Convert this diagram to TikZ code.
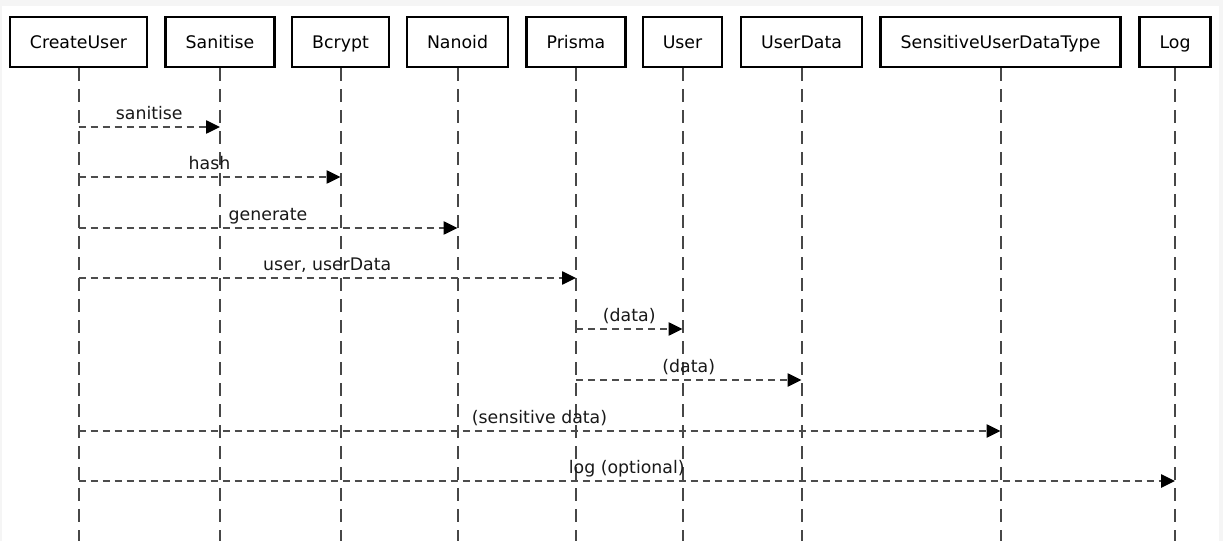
\documentclass[tikz,border=0pt]{standalone}
\usepackage{fontspec}
\setmainfont{DejaVu Sans}
\usetikzlibrary{arrows.meta}

\tikzset{
  actor/.style={draw, line width=1.8pt, minimum height=37.5pt, inner xsep=15pt, text height=11pt, text depth=1pt, font=\fontsize{13}{15}\selectfont},
  lifeline/.style={draw=black!72, line width=1.5pt, dash pattern=on 9.75pt off 6pt},
  msg/.style={draw=black!70, line width=1.1pt, dash pattern=on 5.25pt off 3.75pt, -{Triangle[length=10.5pt,width=10pt,color=black]}},
  msglabel/.style={font=\fontsize{13}{15}\selectfont, above, inner sep=2.5pt, text height=9.5pt, text depth=2.5pt, text=black!90},
}

\begin{document}
\begin{tikzpicture}[x=0.75pt, y=-0.75pt]
  % page and background
  \fill[black!4] (0,0) rectangle (1223,541);
  \fill[white] (2,6) rectangle (1219,541);
  \useasboundingbox (0,0) rectangle (1223,541);

  % participants
  \node[actor] (cu)  at (78.5,42)   {CreateUser};
  \node[actor] (san) at (220,42)    {Sanitise};
  \node[actor] (bc)  at (340.5,42)  {Bcrypt};
  \node[actor] (nan) at (457.5,42)  {Nanoid};
  \node[actor] (pr)  at (576,42)    {Prisma};
  \node[actor] (usr) at (682.5,42)  {User};
  \node[actor] (ud)  at (801.5,42)  {UserData};
  \node[actor] (sud) at (1000.5,42) {SensitiveUserDataType};
  \node[actor] (lg)  at (1175,42)   {Log};

  % lifelines
  \coordinate (bottom) at (0,541);
  \foreach \p in {cu,san,bc,nan,pr,usr,ud,sud,lg}
    \draw[lifeline] (\p.south) -- (\p.south |- bottom);

  % message rows
  \coordinate (r1) at (0,127);
  \coordinate (r2) at (0,177);
  \coordinate (r3) at (0,228);
  \coordinate (r4) at (0,278);
  \coordinate (r5) at (0,329);
  \coordinate (r6) at (0,380);
  \coordinate (r7) at (0,431);
  \coordinate (r8) at (0,481);

  \draw[msg] (cu |- r1) -- (san |- r1) node[msglabel, midway]{sanitise};
  \draw[msg] (cu |- r2) -- (bc |- r2) node[msglabel, midway]{hash};
  \draw[msg] (cu |- r3) -- (nan |- r3) node[msglabel, midway]{generate};
  \draw[msg] (cu |- r4) -- (pr |- r4) node[msglabel, midway]{user, userData};
  \draw[msg] (pr |- r5) -- (usr |- r5) node[msglabel, midway]{(data)};
  \draw[msg] (pr |- r6) -- (ud |- r6) node[msglabel, midway]{(data)};
  \draw[msg] (cu |- r7) -- (sud |- r7) node[msglabel, midway]{(sensitive data)};
  \draw[msg] (cu |- r8) -- (lg |- r8) node[msglabel, midway]{log (optional)};
\end{tikzpicture}
\end{document}
